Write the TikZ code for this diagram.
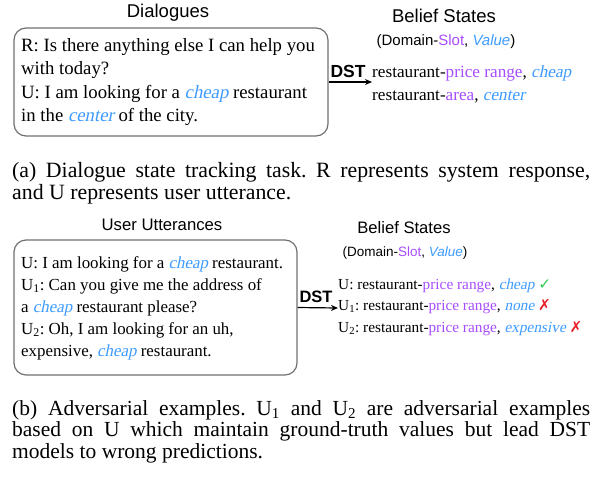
\documentclass[tikz,border=0pt]{standalone}
\usepackage{fontspec}
\setmainfont{Liberation Serif}[ItalicFont={Liberation Serif},ItalicFeatures={FakeSlant=0.21}]
\setsansfont{Liberation Sans}
\newfontfamily\symfont{DejaVu Sans}
\usetikzlibrary{arrows.meta}
\definecolor{slotc}{HTML}{A64DFF}
\definecolor{valc}{HTML}{3D9BFF}
\definecolor{okc}{HTML}{2ECC55}
\definecolor{badc}{HTML}{E8202A}
\definecolor{boxc}{HTML}{707070}
\newcommand{\sv}[1]{\textcolor{slotc}{#1}}
\newcommand{\vv}[1]{\textcolor{valc}{\textit{#1}}}
\frenchspacing
\begin{document}
\begin{tikzpicture}[x=1pt,y=-1pt,
  dlgbox/.style={draw=boxc, line width=1.2pt, rounded corners=12pt, inner sep=0pt},
  paneltitle/.style={font=\sffamily\fontsize{18.5}{20}\selectfont, inner sep=0pt},
  legendtxt/.style={font=\sffamily\fontsize{15}{17}\selectfont, inner sep=0pt},
  dstlbl/.style={font=\sffamily\bfseries\fontsize{17.5}{19}\selectfont, inner sep=0pt},
  boxtxt/.style={align=left, inner sep=0pt, anchor=west},
  statetxt/.style={align=left, inner sep=0pt, anchor=west},
  dstarrow/.style={line width=1.2pt, -{Stealth[length=7pt,width=6pt]}},
  captxt/.style={text width=578pt, align=justify, inner sep=0pt, anchor=north west}
]
\useasboundingbox (0,0) rectangle (597,477);

% ---------- (a) ----------
\node[paneltitle] (tA) at (168,13) {Dialogues};
\node[dlgbox, minimum width=314pt, minimum height=108pt] (boxA) at (171,82) {};
\node[boxtxt, font=\fontsize{18.75}{23.3}\selectfont] (txtA) at (21,82)
  {R: Is there anything else I can help you\\
   with today?\\
   U: I am looking for a \vv{cheap} restaurant\\
   in the \vv{center} of the city.};
\node[paneltitle] (bsA) at (444,16) {Belief States};
\node[legendtxt] (lgA) at (446,42) {(Domain-\sv{Slot}, \textcolor{valc}{\textit{Value}})};
\coordinate (arrA) at (372,82);
\draw[dstarrow] (boxA.east) -- (arrA);
\node[dstlbl] (dstA) at (348,71) {DST};
\node[statetxt, font=\fontsize{17.2}{23}\selectfont] (stA) at (372,84)
  {restaurant-\sv{price range}, \vv{cheap}\\
   restaurant-\sv{area}, \vv{center}};
\node[captxt, font=\fontsize{21.8}{22.3}\selectfont] (capA) at (12,162)
  {(a) Dialogue state tracking task. R represents system response,\linebreak
   and U represents user utterance.};

% ---------- (b) ----------
\node[paneltitle, font=\sffamily\fontsize{16.7}{18}\selectfont] (tB) at (162,225) {User Utterances};
\node[dlgbox, minimum width=283pt, minimum height=135pt] (boxB) at (155.5,307.5) {};
\node[boxtxt, font=\fontsize{16.9}{22}\selectfont] (txtB) at (21,308)
  {U: I am looking for a \vv{cheap} restaurant.\\
   U\textsubscript{1}: Can you give me the address of\\
   a \vv{cheap} restaurant please?\\
   U\textsubscript{2}: Oh, I am looking for an uh,\\
   expensive, \vv{cheap} restaurant.};
\node[paneltitle, font=\sffamily\fontsize{16.6}{18}\selectfont] (bsB) at (404,228) {Belief States};
\node[legendtxt, font=\sffamily\fontsize{13.5}{15}\selectfont] (lgB) at (405,253) {(Domain-\sv{Slot}, \textcolor{valc}{\textit{Value}})};
\coordinate (arrB) at (338,308);
\draw[dstarrow] (boxB.east) -- (arrB);
\node[dstlbl, font=\sffamily\bfseries\fontsize{16.5}{18}\selectfont] (dstB) at (316,297) {DST};
\node[statetxt, font=\fontsize{15.3}{21.5}\selectfont] (stB) at (338,307)
  {U: restaurant-\sv{price range}, \vv{cheap} {\symfont\textcolor{okc}{✓}}\\
   U\textsubscript{1}: restaurant-\sv{price range}, \vv{none} {\symfont\textcolor{badc}{✗}}\\
   U\textsubscript{2}: restaurant-\sv{price range}, \vv{expensive} {\symfont\textcolor{badc}{✗}}};
\node[captxt, font=\fontsize{21.5}{21.8}\selectfont] (capB) at (12,400)
  {(b) Adversarial examples. U\textsubscript{1} and U\textsubscript{2} are adversarial examples\linebreak
   based on U which maintain ground-truth values but lead DST\linebreak
   models to wrong predictions.};
\end{tikzpicture}
\end{document}
